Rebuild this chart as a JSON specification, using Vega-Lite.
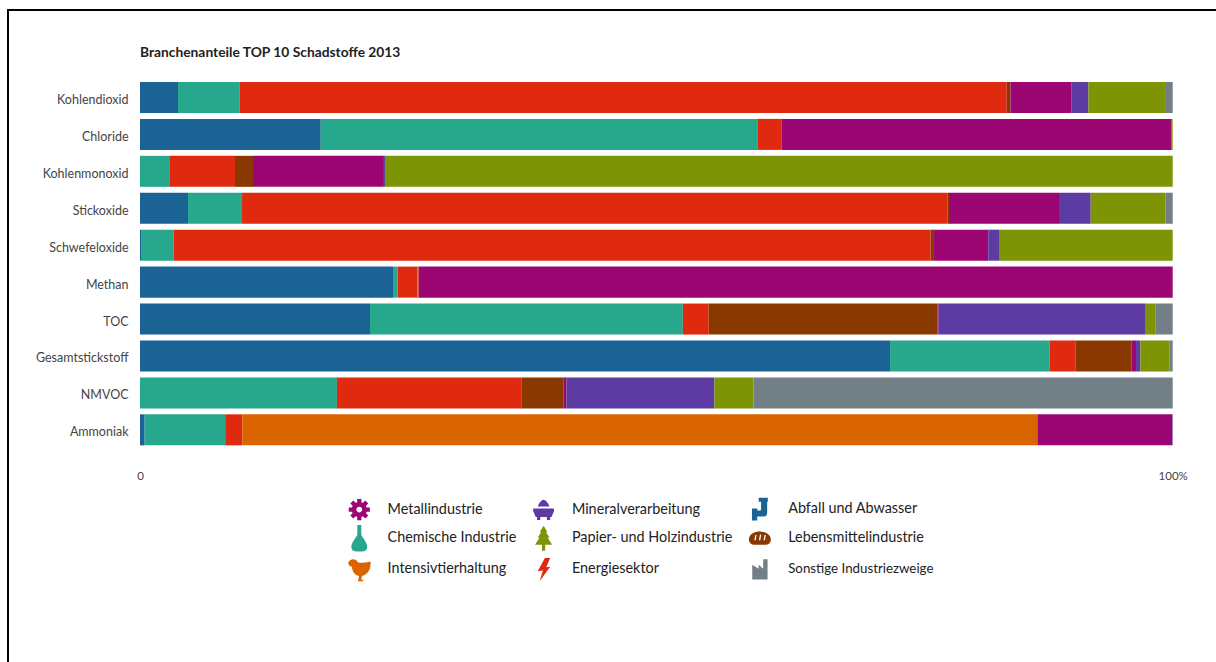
{
  "$schema": "https://vega.github.io/schema/vega-lite/v6.json",
  "width": 1032.7,
  "height": 369.3,
  "autosize": "none",
  "padding": {"left": 140, "top": 79, "right": 43.3, "bottom": 213.7},
  "background": "white",
  "config": {"view": {"stroke": null}, "font": "Lato"},
  "title": {"text": "Branchenanteile TOP 10 Schadstoffe 2013", "anchor": "start", "frame": "group", "font": "Lato", "fontSize": 13.8, "fontWeight": "bold", "color": "#222", "offset": -52},
  "layer": [
    {
      "data": {"values": [
        {"Schadstoff":"Kohlendioxid","Branche":"Abfall und Abwasser","Anteil":3.68,"Rang":1},
        {"Schadstoff":"Kohlendioxid","Branche":"Chemische Industrie","Anteil":5.95,"Rang":2},
        {"Schadstoff":"Kohlendioxid","Branche":"Energiesektor","Anteil":74.3,"Rang":3},
        {"Schadstoff":"Kohlendioxid","Branche":"Lebensmittelindustrie","Anteil":0.36,"Rang":5},
        {"Schadstoff":"Kohlendioxid","Branche":"Metallindustrie","Anteil":5.93,"Rang":6},
        {"Schadstoff":"Kohlendioxid","Branche":"Mineralverarbeitung","Anteil":1.62,"Rang":7},
        {"Schadstoff":"Kohlendioxid","Branche":"Papier- und Holzindustrie","Anteil":7.42,"Rang":8},
        {"Schadstoff":"Kohlendioxid","Branche":"Sonstige Industriezweige","Anteil":0.74,"Rang":9},
        {"Schadstoff":"Chloride","Branche":"Abfall und Abwasser","Anteil":17.5,"Rang":1},
        {"Schadstoff":"Chloride","Branche":"Chemische Industrie","Anteil":42.28,"Rang":2},
        {"Schadstoff":"Chloride","Branche":"Energiesektor","Anteil":2.37,"Rang":3},
        {"Schadstoff":"Chloride","Branche":"Metallindustrie","Anteil":37.75,"Rang":6},
        {"Schadstoff":"Chloride","Branche":"Papier- und Holzindustrie","Anteil":0.1,"Rang":8},
        {"Schadstoff":"Kohlenmonoxid","Branche":"Chemische Industrie","Anteil":2.9,"Rang":2},
        {"Schadstoff":"Kohlenmonoxid","Branche":"Energiesektor","Anteil":6.3,"Rang":3},
        {"Schadstoff":"Kohlenmonoxid","Branche":"Lebensmittelindustrie","Anteil":1.74,"Rang":5},
        {"Schadstoff":"Kohlenmonoxid","Branche":"Metallindustrie","Anteil":12.68,"Rang":6},
        {"Schadstoff":"Kohlenmonoxid","Branche":"Mineralverarbeitung","Anteil":0.1,"Rang":7},
        {"Schadstoff":"Kohlenmonoxid","Branche":"Papier- und Holzindustrie","Anteil":76.28,"Rang":8},
        {"Schadstoff":"Stickoxide","Branche":"Abfall und Abwasser","Anteil":4.65,"Rang":1},
        {"Schadstoff":"Stickoxide","Branche":"Chemische Industrie","Anteil":5.23,"Rang":2},
        {"Schadstoff":"Stickoxide","Branche":"Energiesektor","Anteil":68.3,"Rang":3},
        {"Schadstoff":"Stickoxide","Branche":"Lebensmittelindustrie","Anteil":0.16,"Rang":5},
        {"Schadstoff":"Stickoxide","Branche":"Metallindustrie","Anteil":10.65,"Rang":6},
        {"Schadstoff":"Stickoxide","Branche":"Mineralverarbeitung","Anteil":3.07,"Rang":7},
        {"Schadstoff":"Stickoxide","Branche":"Papier- und Holzindustrie","Anteil":7.26,"Rang":8},
        {"Schadstoff":"Stickoxide","Branche":"Sonstige Industriezweige","Anteil":0.68,"Rang":9},
        {"Schadstoff":"Schwefeloxide","Branche":"Abfall und Abwasser","Anteil":0.1,"Rang":1},
        {"Schadstoff":"Schwefeloxide","Branche":"Chemische Industrie","Anteil":3.17,"Rang":2},
        {"Schadstoff":"Schwefeloxide","Branche":"Energiesektor","Anteil":73.29,"Rang":3},
        {"Schadstoff":"Schwefeloxide","Branche":"Lebensmittelindustrie","Anteil":0.32,"Rang":5},
        {"Schadstoff":"Schwefeloxide","Branche":"Metallindustrie","Anteil":5.26,"Rang":6},
        {"Schadstoff":"Schwefeloxide","Branche":"Mineralverarbeitung","Anteil":1.04,"Rang":7},
        {"Schadstoff":"Schwefeloxide","Branche":"Papier- und Holzindustrie","Anteil":16.82,"Rang":8},
        {"Schadstoff":"Methan","Branche":"Abfall und Abwasser","Anteil":24.5,"Rang":1},
        {"Schadstoff":"Methan","Branche":"Chemische Industrie","Anteil":0.44,"Rang":2},
        {"Schadstoff":"Methan","Branche":"Energiesektor","Anteil":1.94,"Rang":3},
        {"Schadstoff":"Methan","Branche":"Intensivtierhaltung","Anteil":0.1,"Rang":4},
        {"Schadstoff":"Methan","Branche":"Metallindustrie","Anteil":73.02,"Rang":6},
        {"Schadstoff":"TOC","Branche":"Abfall und Abwasser","Anteil":22.27,"Rang":1},
        {"Schadstoff":"TOC","Branche":"Chemische Industrie","Anteil":30.3,"Rang":2},
        {"Schadstoff":"TOC","Branche":"Energiesektor","Anteil":2.5,"Rang":3},
        {"Schadstoff":"TOC","Branche":"Lebensmittelindustrie","Anteil":22.17,"Rang":5},
        {"Schadstoff":"TOC","Branche":"Metallindustrie","Anteil":0.1,"Rang":6},
        {"Schadstoff":"TOC","Branche":"Mineralverarbeitung","Anteil":20.05,"Rang":7},
        {"Schadstoff":"TOC","Branche":"Papier- und Holzindustrie","Anteil":0.97,"Rang":8},
        {"Schadstoff":"TOC","Branche":"Sonstige Industriezweige","Anteil":1.64,"Rang":9},
        {"Schadstoff":"Gesamtstickstoff","Branche":"Abfall und Abwasser","Anteil":72.63,"Rang":1},
        {"Schadstoff":"Gesamtstickstoff","Branche":"Chemische Industrie","Anteil":15.46,"Rang":2},
        {"Schadstoff":"Gesamtstickstoff","Branche":"Energiesektor","Anteil":2.52,"Rang":3},
        {"Schadstoff":"Gesamtstickstoff","Branche":"Lebensmittelindustrie","Anteil":5.42,"Rang":5},
        {"Schadstoff":"Gesamtstickstoff","Branche":"Metallindustrie","Anteil":0.42,"Rang":6},
        {"Schadstoff":"Gesamtstickstoff","Branche":"Mineralverarbeitung","Anteil":0.42,"Rang":7},
        {"Schadstoff":"Gesamtstickstoff","Branche":"Papier- und Holzindustrie","Anteil":2.8,"Rang":8},
        {"Schadstoff":"Gesamtstickstoff","Branche":"Sonstige Industriezweige","Anteil":0.33,"Rang":9},
        {"Schadstoff":"NMVOC","Branche":"Chemische Industrie","Anteil":19.07,"Rang":2},
        {"Schadstoff":"NMVOC","Branche":"Energiesektor","Anteil":17.9,"Rang":3},
        {"Schadstoff":"NMVOC","Branche":"Lebensmittelindustrie","Anteil":4.02,"Rang":5},
        {"Schadstoff":"NMVOC","Branche":"Metallindustrie","Anteil":0.3,"Rang":6},
        {"Schadstoff":"NMVOC","Branche":"Mineralverarbeitung","Anteil":14.33,"Rang":7},
        {"Schadstoff":"NMVOC","Branche":"Papier- und Holzindustrie","Anteil":3.78,"Rang":8},
        {"Schadstoff":"NMVOC","Branche":"Sonstige Industriezweige","Anteil":40.6,"Rang":9},
        {"Schadstoff":"Ammoniak","Branche":"Abfall und Abwasser","Anteil":0.45,"Rang":1},
        {"Schadstoff":"Ammoniak","Branche":"Chemische Industrie","Anteil":7.8,"Rang":2},
        {"Schadstoff":"Ammoniak","Branche":"Energiesektor","Anteil":1.65,"Rang":3},
        {"Schadstoff":"Ammoniak","Branche":"Intensivtierhaltung","Anteil":77.0,"Rang":4},
        {"Schadstoff":"Ammoniak","Branche":"Metallindustrie","Anteil":13.05,"Rang":6},
        {"Schadstoff":"Ammoniak","Branche":"Mineralverarbeitung","Anteil":0.05,"Rang":7}
      ]},
      "mark": {"type": "bar"},
      "encoding": {
        "y": {
          "field": "Schadstoff", "type": "nominal",
          "sort": ["Kohlendioxid","Chloride","Kohlenmonoxid","Stickoxide","Schwefeloxide","Methan","TOC","Gesamtstickstoff","NMVOC","Ammoniak"],
          "scale": {"paddingInner": 0.16, "paddingOuter": 0.08},
          "axis": {"title": null, "domain": false, "ticks": false, "labelPadding": 12, "labelOffset": 2.5, "labelFont": "Lato", "labelFontSize": 12.5, "labelColor": "#444"}
        },
        "x": {
          "field": "Anteil", "type": "quantitative", "stack": "zero",
          "scale": {"domain": [0, 100], "nice": false},
          "axis": {"title": null, "domain": false, "ticks": false, "grid": false, "values": [0, 100], "labelExpr": "datum.value === 100 ? '100%' : '0'", "labelPadding": 22, "labelFlush": false, "labelFont": "Lato", "labelFontSize": 11.5, "labelColor": "#444"}
        },
        "order": {"field": "Rang", "type": "quantitative"},
        "color": {
          "field": "Branche", "type": "nominal",
          "scale": {
            "domain": ["Metallindustrie","Chemische Industrie","Intensivtierhaltung","Mineralverarbeitung","Papier- und Holzindustrie","Energiesektor","Abfall und Abwasser","Lebensmittelindustrie","Sonstige Industriezweige"],
            "range": ["#9B0672","#27A78C","#D96400","#5C3BA3","#7D9404","#DF2A10","#1B6394","#893900","#727F86"]
          },
          "legend": {"title": null, "orient": "none", "legendX": 205.8, "legendY": 416.6, "columns": 3, "direction": "vertical", "symbolSize": 697, "symbolOpacity": 1, "symbolStrokeWidth": 0, "rowPadding": 4.1, "columnPadding": 13.3, "labelOffset": 14.8, "labelFont": "Lato", "labelFontSize": 14.4, "labelColor": "#222", "labelLimit": 300,
            "encode": {"labels": {"update": {"fontSize": {"signal": "datum.label === 'Sonstige Industriezweige' ? 13.3 : 14.4"}}}}}
        }
      }
    },
    {
      "data": {"values": [
        {"Branche":"Metallindustrie"},{"Branche":"Chemische Industrie"},{"Branche":"Intensivtierhaltung"},
        {"Branche":"Mineralverarbeitung"},{"Branche":"Papier- und Holzindustrie"},{"Branche":"Energiesektor"},
        {"Branche":"Abfall und Abwasser"},{"Branche":"Lebensmittelindustrie"},{"Branche":"Sonstige Industriezweige"}
      ]},
      "mark": {"type": "point", "filled": true, "opacity": 0, "size": 697},
      "encoding": {
        "color": {
          "field": "Branche", "type": "nominal",
          "scale": {
            "domain": ["Metallindustrie","Chemische Industrie","Intensivtierhaltung","Mineralverarbeitung","Papier- und Holzindustrie","Energiesektor","Abfall und Abwasser","Lebensmittelindustrie","Sonstige Industriezweige"],
            "range": ["#9B0672","#27A78C","#D96400","#5C3BA3","#7D9404","#DF2A10","#1B6394","#893900","#727F86"]
          },
          "legend": {"title": null, "orient": "none", "legendX": 205.8, "legendY": 416.6, "columns": 3, "direction": "vertical", "symbolSize": 697, "symbolOpacity": 1, "symbolStrokeWidth": 0, "rowPadding": 4.1, "columnPadding": 13.3, "labelOffset": 14.8, "labelFont": "Lato", "labelFontSize": 14.4, "labelColor": "#222", "labelLimit": 300,
            "encode": {"labels": {"update": {"fontSize": {"signal": "datum.label === 'Sonstige Industriezweige' ? 13.3 : 14.4"}}}}}
        },
        "shape": {
          "field": "Branche", "type": "nominal",
          "scale": {
            "domain": ["Metallindustrie","Chemische Industrie","Intensivtierhaltung","Mineralverarbeitung","Papier- und Holzindustrie","Energiesektor","Abfall und Abwasser","Lebensmittelindustrie","Sonstige Industriezweige"],
            "range": [
              "M0,-.58A.58,.58 0 1,1 0,.58A.58,.58 0 1,1 0,-.58ZM0,-.22A.22,.22 0 1,0 0,.22A.22,.22 0 1,0 0,-.22ZM-.16,-.48L-.16,-.8L.16,-.8L.16,-.48ZM.48,-.16L.8,-.16L.8,.16L.48,.16ZM.16,.48L.16,.8L-.16,.8L-.16,.48ZM-.48,.16L-.8,.16L-.8,-.16L-.48,-.16ZM.226,-.452L.453,-.678L.678,-.453L.452,-.226ZM.452,.226L.678,.453L.453,.678L.226,.452ZM-.226,.452L-.453,.678L-.678,.453L-.452,.226ZM-.452,-.226L-.678,-.453L-.453,-.678L-.226,-.452Z",
              "M-.15,-1L.15,-1L.15,-.25C.3,0 .6,.35 .6,.65C.6,.9 .45,1 .25,1L-.25,1C-.45,1 -.6,.9 -.6,.65C-.6,.35 -.3,0 -.15,-.25Z",
              "M-.85,-.5C-.7,-.8 -.3,-.85 -.15,-.6C-.05,-.45 .2,-.45 .85,-.6C.9,-.1 .7,.4 .2,.5L.15,.8L.3,.8L.3,.9L-.1,.9L-.02,.5C-.4,.45 -.55,.1 -.55,-.2C-.7,-.2 -.8,-.3 -.85,-.5Z",
              "M-.45,-.25C-.3,-.6 -.15,-.76 0,-.76C.15,-.76 .3,-.6 .45,-.25ZM-.79,-.1L.79,-.1L.79,.1L.6,.55L-.6,.55L-.79,.1ZM-.5,.55L-.25,.55L-.25,.78L-.5,.78ZM.25,.55L.5,.55L.5,.78L.25,.78Z",
              "M0,-.95L.3,-.45L.18,-.45L.45,-.05L.3,-.05L.65,.5L.12,.5L.12,.95L-.12,.95L-.12,.5L-.65,.5L-.3,-.05L-.45,-.05L-.18,-.45L-.3,-.45Z",
              "M.1,-.85L.5,-.85L.2,-.15L.5,-.2L-.3,.9L-.05,.1L-.45,.15Z",
              "M-.09,-.86L.6,-.86L.6,-.56L.55,-.56L.55,.3C.55,.45 .45,.55 .3,.55L-.2,.55L-.2,.86L-.6,.86L-.6,-.05L-.2,-.05L-.2,.1L0,.1C.07,.1 .09,.07 .09,0L.09,-.56L-.09,-.56Z",
              "M-.83,.1C-.83,-.3 -.4,-.5 0,-.5C.4,-.5 .83,-.3 .83,.1C.83,.4 .6,.5 .4,.5L-.4,.5C-.6,.5 -.83,.4 -.83,.1ZM-.35,-.25L-.42,.15L-.32,.15L-.25,-.25ZM0,-.28L-.07,.15L.03,.15L.1,-.28ZM.35,-.25L.28,.15L.38,.15L.45,-.25Z",
              "M-.58,-.35L-.1,-.05L-.1,-.35L.25,-.05L.25,-.77L.58,-.77L.58,.77L-.58,.77Z"
            ]
          },
          "legend": {"title": null, "orient": "none", "legendX": 205.8, "legendY": 416.6, "columns": 3, "direction": "vertical", "symbolSize": 697, "symbolOpacity": 1, "symbolStrokeWidth": 0, "rowPadding": 4.1, "columnPadding": 13.3, "labelOffset": 14.8, "labelFont": "Lato", "labelFontSize": 14.4, "labelColor": "#222", "labelLimit": 300,
            "encode": {"labels": {"update": {"fontSize": {"signal": "datum.label === 'Sonstige Industriezweige' ? 13.3 : 14.4"}}}}}
        }
      }
    },
    {
      "data": {"values": [{"Rahmen": "links"}]},
      "mark": {"type": "rule", "color": "#000", "strokeWidth": 2, "clip": false},
      "encoding": {"x": {"value": -132}, "y": {"value": -70}, "y2": {"value": 600}}
    },
    {
      "data": {"values": [{"Rahmen": "oben"}]},
      "mark": {"type": "rule", "color": "#000", "strokeWidth": 2, "clip": false},
      "encoding": {"x": {"value": -133}, "x2": {"value": 1100}, "y": {"value": -69}}
    }
  ]
}
